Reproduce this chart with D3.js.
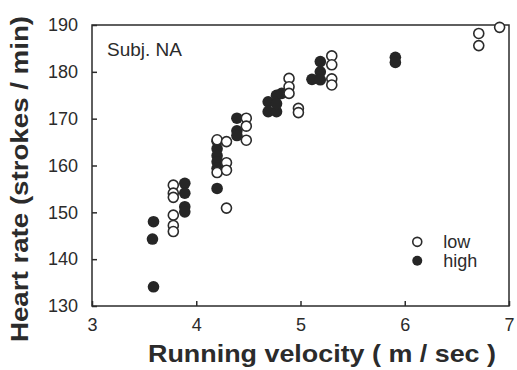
<!DOCTYPE html>
<html>
<head>
<meta charset="utf-8">
<script src="https://cdn.jsdelivr.net/npm/d3@7"></script>
<style>
  body { margin: 0; background: #fff; }
  text { font-family: "Liberation Sans", Arial, Helvetica, sans-serif; fill: #2b2b2b; }
</style>
</head>
<body>
<svg id="chart" width="517" height="370"></svg>
<script>
// running velocity (m/sec) and heart rate (strokes/min), low and high group
const lowV  = [3.78, 3.78, 3.78, 3.78, 3.78, 3.78,
               4.20, 4.20, 4.29, 4.29, 4.29, 4.29,
               4.48, 4.48, 4.48,
               4.89, 4.89, 4.89, 4.98, 4.98,
               5.30, 5.30, 5.30, 5.30,
               6.71, 6.71, 6.91];
const lowHR = [155.8, 154.1, 153.2, 149.4, 147.2, 145.9,
               165.5, 158.5, 165.1, 160.6, 159.0, 150.9,
               170.1, 168.4, 165.4,
               178.6, 176.8, 175.4, 172.2, 171.3,
               183.4, 181.5, 178.5, 177.2,
               188.2, 185.6, 189.5];

const highV  = [3.59, 3.58, 3.59,
                3.89, 3.89, 3.89, 3.89,
                4.20, 4.20, 4.20, 4.20, 4.20, 4.20,
                4.39, 4.39, 4.39,
                4.69, 4.69, 4.77, 4.77, 4.77, 4.82,
                5.11, 5.19, 5.19, 5.19,
                5.91, 5.91];
const highHR = [148.0, 144.3, 134.1,
                156.2, 154.1, 151.2, 150.1,
                165.2, 163.6, 162.1, 160.8, 159.4, 155.1,
                170.1, 167.4, 166.4,
                173.6, 171.5, 171.5, 175.0, 173.2, 175.4,
                178.4, 182.2, 180.0, 178.3,
                183.1, 182.0];

const xTicks = [3, 4, 5, 6, 7];
const yTicks = [130, 140, 150, 160, 170, 180, 190];

const margin = { top: 25, right: 8, bottom: 64, left: 92 };
const width = 517 - margin.left - margin.right;
const height = 370 - margin.top - margin.bottom;
const ink = "#2b2b2b";

const svg = d3.select("#chart");
const g = svg.append("g").attr("transform", `translate(${margin.left},${margin.top})`);

const x = d3.scaleLinear().domain([3, 7]).range([0, width]);
const y = d3.scaleLinear().domain([130, 190]).range([height, 0]);

// frame
g.append("rect")
  .attr("width", width).attr("height", height)
  .attr("fill", "none").attr("stroke", ink).attr("stroke-width", 1.5);

// x axis, ticks pointing inward
const xAxis = g.append("g")
  .attr("transform", `translate(0,${height})`)
  .call(d3.axisBottom(x).tickValues(xTicks).tickFormat(d3.format("d")).tickSizeInner(-5).tickSizeOuter(0).tickPadding(12));
xAxis.select(".domain").remove();
xAxis.selectAll("line").attr("stroke", ink).attr("stroke-width", 1.5);
xAxis.selectAll("text").attr("font-size", 18).attr("fill", ink);

// y axis
const yAxis = g.append("g")
  .call(d3.axisLeft(y).tickValues(yTicks).tickFormat(d3.format("d")).tickSizeInner(-5).tickSizeOuter(0).tickPadding(14));
yAxis.select(".domain").remove();
yAxis.selectAll("line").attr("stroke", ink).attr("stroke-width", 1.5);
yAxis.selectAll("text").attr("font-size", 18).attr("fill", ink);

// points
g.append("g").selectAll("circle")
  .data(highV.map((v, i) => [v, highHR[i]]))
  .join("circle")
  .attr("cx", d => x(d[0])).attr("cy", d => y(d[1]))
  .attr("r", 5.8).attr("fill", "#262626");

g.append("g").selectAll("circle")
  .data(lowV.map((v, i) => [v, lowHR[i]]))
  .join("circle")
  .attr("cx", d => x(d[0])).attr("cy", d => y(d[1]))
  .attr("r", 5).attr("fill", "#fff").attr("stroke", ink).attr("stroke-width", 1.6);

// subject label
g.append("text")
  .attr("x", 15).attr("y", 31)
  .attr("font-size", 19)
  .text("Subj. NA");

// legend
const legend = g.append("g").attr("transform", `translate(${x(6.12)},${y(143.7)})`);
legend.append("circle").attr("r", 4.5).attr("fill", "#fff").attr("stroke", ink).attr("stroke-width", 1.6);
legend.append("text").attr("x", 26).attr("y", 6).attr("font-size", 18).text("low");
legend.append("circle").attr("cy", 19).attr("r", 5).attr("fill", "#262626");
legend.append("text").attr("x", 26).attr("y", 25).attr("font-size", 18).text("high");

// axis titles
svg.append("text")
  .attr("x", 322).attr("y", 362)
  .attr("text-anchor", "middle")
  .attr("font-size", 24).attr("font-weight", "bold")
  .attr("textLength", 348).attr("lengthAdjust", "spacingAndGlyphs")
  .text("Running velocity ( m / sec )");

svg.append("text")
  .attr("transform", "translate(28,179) rotate(-90)")
  .attr("text-anchor", "middle")
  .attr("font-size", 24).attr("font-weight", "bold")
  .attr("textLength", 326).attr("lengthAdjust", "spacingAndGlyphs")
  .text("Heart rate (strokes / min)");
</script>
</body>
</html>
